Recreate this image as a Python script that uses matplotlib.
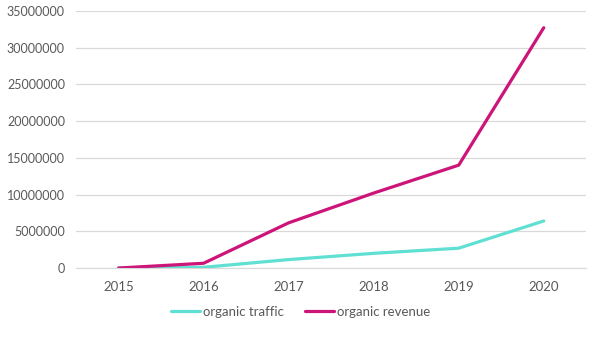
import matplotlib
matplotlib.use("Agg")
import matplotlib.pyplot as plt

years = ["2015", "2016", "2017", "2018", "2019", "2020"]
organic_traffic = [0, 100000, 1150000, 2000000, 2700000, 6400000]
organic_revenue = [0, 650000, 6150000, 10200000, 14000000, 32700000]

plt.rcParams['font.family'] = ['Lato', 'DejaVu Sans']
text_grey = '#595959'

fig = plt.figure(figsize=(5.94, 3.38), dpi=100)
ax = fig.add_axes([0.128, 0.207, 0.859, 0.761])

x = list(range(len(years)))
ax.plot(x, organic_traffic, color='#5fe0d2', lw=2.3, label='organic traffic', solid_capstyle='round')
ax.plot(x, organic_revenue, color='#cc1479', lw=2.3, label='organic revenue', solid_capstyle='round')

ax.set_xlim(-0.5, len(years) - 0.5)
ax.set_ylim(0, 35000000)
ax.set_yticks(range(0, 35000001, 5000000))
ax.set_yticklabels([str(v) for v in range(0, 35000001, 5000000)])
ax.set_xticks(x)
ax.set_xticklabels(years)

ax.grid(axis='y', color='#d9d9d9', lw=0.9)
ax.set_axisbelow(True)
for side in ['top', 'right', 'left']:
    ax.spines[side].set_visible(False)
ax.spines['bottom'].set_color('#d9d9d9')
ax.tick_params(length=0, labelsize=9, colors=text_grey, pad=8)
ax.tick_params(axis='x', labelsize=9.5, pad=9)

ax.legend(loc='upper center', bbox_to_anchor=(0.44, -0.1), ncol=2, frameon=False,
          fontsize=9.5, labelcolor=text_grey, handlelength=2.2, handletextpad=0.2,
          columnspacing=1.6)

fig.savefig('out.png', dpi=100)
